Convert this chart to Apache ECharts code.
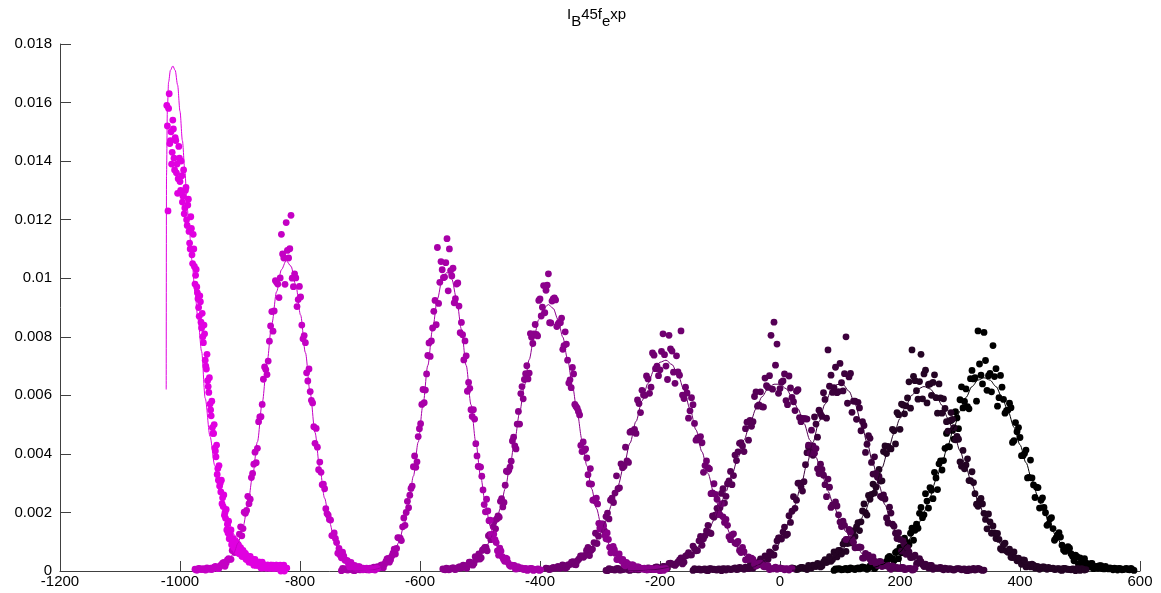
<!DOCTYPE html>
<html><head><meta charset="utf-8">
<script src="https://cdn.jsdelivr.net/npm/echarts@6/dist/echarts.min.js"></script>
<style>html,body{margin:0;padding:0;background:#fff}#c{width:1161px;height:593px}</style>
</head><body><div id="c"></div>
<script>
// ---- tick labels ----
const xTicks = [-1200, -1000, -800, -600, -400, -200, 0, 200, 400, 600];
const yTicks = [0, 0.002, 0.004, 0.006, 0.008, 0.01, 0.012, 0.014, 0.016, 0.018];

// ---- sample grids (first x, spacing) for each measured series; B samples sit between A samples ----
const xStart  = [-1022, -975, -731, -562, -390, -290, -145, 20, 90];
const xStartB = [-1021, -973, -729, -560, -387.5, -287.5, -142.5, 22.5, 92.5];
const xStep   = [2, 4, 4, 4, 5, 5, 5, 5, 5];

// ---- measured values ----
const yS1 = [0.0159,0.0123,0.0163,0.0147,0.0139,0.0154,0.0141,0.0148,0.0136,0.0129,
0.0145,0.0133,0.0140,0.0126,0.0137,0.0124,0.0131,0.0118,0.0127,0.0112,
0.0121,0.0108,0.0115,0.0104,0.0101,0.0097,0.0093,0.0087,0.0092,0.0083,
0.0080,0.0084,0.0072,0.0069,0.0065,0.0061,0.0057,0.0053,0.0049,0.0047,
0.0042,0.0039,0.0033,0.0031,0.0029,0.0027,0.0023,0.0022,0.0019,0.0018,
0.0014,0.0013,0.0011,0.0012,0.0009,0.0010,0.0008,0.0009,0.0007,0.0008,
0.0006,0.0007,0.0006,0.0005,0.0006,0.0005,0.0004,0.0005,0.0004,0.0004,
0.0003,0.0004,0.0003,0.0003,0.0002,0.0003,0.0002,0.0003,0.0002,0.0002,
0.0001,0.0002,0.0002,0.0001,0.0002,0.0001,0.0001,0.0002,0.0001,0.0001,
0.0001,0.0002,0.0001,0.0001,0.0001,0.0000,0.0001,0.0001,0.0000,0.0001,
0.0001];
const yS1B = [0.0152,0.0158,0.0146,0.0150,0.0143,0.0151,0.0137,0.0147,0.0139,0.0134,
0.0141,0.0130,0.0135,0.0128,0.0122,0.0130,0.0120,0.0125,0.0116,0.0110,
0.0117,0.0105,0.0110,0.0098,0.0103,0.0095,0.0090,0.0094,0.0085,0.0088,
0.0078,0.0081,0.0070,0.0074,0.0063,0.0066,0.0055,0.0058,0.0047,0.0050,
0.0041,0.0043,0.0035,0.0036,0.0030,0.0031,0.0025,0.0026,0.0020,0.0021,
0.0016,0.0017,0.0012,0.0014,0.0010,0.0011,0.0009,0.0010,0.0007,0.0009,
0.0006,0.0008,0.0005,0.0007,0.0005,0.0006,0.0004,0.0005,0.0003,0.0005,
0.0003,0.0004,0.0002,0.0004,0.0002,0.0003,0.0002,0.0003,0.0001,0.0003,
0.0002,0.0002,0.0001,0.0002,0.0002,0.0001,0.0002,0.0001,0.0002,0.0001,
0.0001,0.0002,0.0001,0.0001,0.0002,0.0001,0.0001,0.0002,0.0001,0.0001];
const yS2 = [0.00006,0.00003,0.00008,0.00006,0.00004,0.00011,0.00006,0.00005,0.00013,0.00012,
0.00009,0.00022,0.00029,0.00027,0.00042,0.0004,0.00077,0.00079,0.0009,0.00151,
0.00145,0.00197,0.00255,0.00245,0.00333,0.00406,0.00419,0.00526,0.00569,0.00697,
0.00671,0.00785,0.00886,0.00888,0.00986,0.00934,0.0115,0.01069,0.0119,0.01069,
0.01215,0.00971,0.01001,0.00927,0.00936,0.00793,0.0078,0.00649,0.00613,0.00574,
0.00436,0.00423,0.00372,0.00295,0.00281,0.00196,0.00176,0.00121,0.0013,0.00097,
0.00077,0.00045,0.00051,0.00036,0.00023,0.00029,0.00015,0.0001,0.00015,0.00009,
0.00004,0.00009,0.00009,0.00005,0.00006,0.00003,0.00008];
const yS2B = [0.00003,0.00009,0.00005,0.00008,0.00003,0.00008,0.0001,0.00008,0.00016,0.00008,
0.00017,0.00027,0.00016,0.00038,0.0004,0.0007,0.00063,0.0009,0.00126,0.0012,
0.00201,0.00207,0.0023,0.00319,0.00365,0.0037,0.0051,0.00527,0.00655,0.00688,
0.00717,0.00837,0.00819,0.00992,0.0098,0.01001,0.01083,0.00979,0.01095,0.01101,
0.01,0.01015,0.00903,0.00972,0.0084,0.00804,0.00677,0.0069,0.00583,0.00493,
0.00487,0.00346,0.00337,0.00297,0.00213,0.00191,0.00174,0.00121,0.00111,0.00061,
0.00054,0.00064,0.00037,0.00035,0.00014,0.0002,0.00019,0.00009,0.00015,0.00006,
0.00008,0.0001,0.00003,0.00007,0.00005,0.00009];
const yS3 = [0.00001,0.00007,0.00007,0.00004,0.00006,0.00002,0.00008,0.00005,0.00004,0.0001,
0.00005,0.00007,0.0001,0.00005,0.00011,0.00015,0.00011,0.00021,0.00023,0.00041,
0.0003,0.00051,0.00075,0.00077,0.00113,0.00104,0.00181,0.002,0.00216,0.00282,
0.00356,0.00354,0.00459,0.00503,0.0062,0.00618,0.00736,0.00733,0.0083,0.00924,
0.01105,0.00986,0.01029,0.01004,0.01135,0.0110,0.01008,0.00916,0.0098,0.00905,
0.00849,0.00721,0.00735,0.00644,0.00551,0.00551,0.00435,0.00357,0.00355,0.00277,
0.00202,0.00205,0.00174,0.0012,0.00107,0.00069,0.00078,0.00049,0.00033,0.00041,
0.0002,0.0002,0.00019,0.00007,0.00011,0.00011,0.00005,0.00008,0.00005,0.00009,
0.00002,0.00005,0.00007,0.00004];
const yS3B = [0.00009,0.00005,0.00003,0.00007,0.00006,0.00001,0.00007,0.00004,0.00008,0.00006,
0.00004,0.00008,0.00005,0.00013,0.0001,0.00011,0.0002,0.00011,0.00032,0.00043,
0.00038,0.00061,0.00058,0.00114,0.00112,0.00151,0.00156,0.00238,0.00259,0.0029,
0.00393,0.00373,0.00486,0.00569,0.00575,0.00673,0.00779,0.00786,0.00887,0.00841,
0.00914,0.01057,0.01002,0.01053,0.00957,0.01026,0.01034,0.0093,0.00984,0.00814,
0.00807,0.00786,0.00614,0.00624,0.00528,0.00519,0.00393,0.00356,0.00324,0.00227,
0.00245,0.00172,0.00125,0.00126,0.00097,0.00054,0.00068,0.0004,0.00044,0.00028,
0.00016,0.00019,0.00007,0.00015,0.0001,0.00007,0.00009,0.00002,0.00008,0.00008,
0.00004,0.00006,0.00002];
const yS4 = [0.00007,0.00004,0.00008,0.00006,0.00011,0.00005,0.0001,0.00015,0.00011,0.00018,
0.00009,0.0003,0.00028,0.00026,0.0004,0.00058,0.00045,0.00075,0.00081,0.0012,
0.00107,0.00152,0.00144,0.00188,0.00238,0.00219,0.00293,0.00339,0.00355,0.00444,
0.00427,0.00502,0.00502,0.0063,0.00654,0.00701,0.00676,0.00798,0.0081,0.00808,
0.00924,0.00871,0.00975,0.00959,0.01015,0.00847,0.00929,0.00926,0.00843,0.00848,
0.00757,0.00817,0.0072,0.00653,0.00695,0.00569,0.00556,0.00533,0.00408,0.00412,
0.00386,0.00298,0.00297,0.00244,0.00249,0.00163,0.00161,0.00154,0.0011,0.00108,
0.00062,0.00084,0.0006,0.0004,0.0004,0.0004,0.00018,0.00025,0.00018,0.00022,
0.00011,0.00014,0.00008,0.00009,0.0001,0.00004,0.00007,0.00008,0.00005,0.00009,
0.00003,0.00006,0.00002,0.00008];
const yS4B = [0.00005,0.0001,0.00004,0.00008,0.00011,0.00006,0.00012,0.0001,0.0002,0.00013,
0.0002,0.0003,0.0002,0.00049,0.00041,0.00041,0.00071,0.00081,0.00069,0.00124,
0.00119,0.00172,0.00178,0.00184,0.00247,0.00234,0.00341,0.00344,0.00375,0.00457,
0.00417,0.00545,0.00606,0.00588,0.00674,0.00656,0.00811,0.00777,0.00842,0.00803,
0.00929,0.00901,0.00882,0.00976,0.00848,0.00922,0.00933,0.00835,0.00849,0.00864,
0.0077,0.00775,0.00642,0.00626,0.00673,0.00562,0.00545,0.00429,0.00441,0.00417,
0.00329,0.0035,0.00242,0.00239,0.00229,0.00143,0.00159,0.00122,0.0013,0.00081,
0.00076,0.00073,0.00039,0.00058,0.00034,0.00021,0.00029,0.00022,0.00008,0.00019,
0.00009,0.00014,0.0001,0.00006,0.00009,0.00004,0.00009,0.00006,0.00005,0.00008,
0.00001,0.00007,0.00008];
const yS5 = [0.0001,0.00005,0.0001,0.00009,0.00016,0.0001,0.00019,0.00013,0.00022,0.00032,
0.00021,0.00041,0.00052,0.00053,0.00081,0.0007,0.00097,0.00094,0.00149,0.00161,
0.00186,0.00178,0.00249,0.00266,0.00281,0.00366,0.00358,0.00376,0.00474,0.00478,
0.0047,0.00572,0.00617,0.006,0.00656,0.00628,0.00737,0.007,0.00687,0.0081,
0.007,0.00805,0.00751,0.00641,0.0068,0.0082,0.00589,0.00608,0.00547,0.00568,
0.00447,0.00448,0.00438,0.0036,0.00353,0.00264,0.00298,0.00245,0.00192,0.00185,
0.00176,0.00117,0.00123,0.00096,0.00101,0.00063,0.00066,0.00039,0.0004,0.0004,
0.00017,0.00024,0.00022,0.00014,0.00018,0.00008,0.0001,0.00006,0.00011,0.00008,
0.00008,0.00003,0.00008];
const yS5B = [0.00009,0.00006,0.00012,0.00011,0.00009,0.00021,0.00009,0.00022,0.0003,0.00022,
0.00035,0.00052,0.00047,0.0007,0.00053,0.00075,0.00129,0.00119,0.00155,0.00137,
0.00198,0.00242,0.00234,0.00325,0.00284,0.00353,0.00423,0.00371,0.00478,0.00484,
0.00584,0.00541,0.00601,0.00666,0.00607,0.00745,0.00691,0.00667,0.0075,0.00739,
0.00654,0.00759,0.00679,0.00735,0.00669,0.00601,0.00628,0.00522,0.00592,0.00504,
0.00455,0.00459,0.00337,0.00376,0.00349,0.00267,0.00262,0.00194,0.0023,0.00166,
0.00156,0.00107,0.00127,0.00093,0.0007,0.00081,0.00038,0.00048,0.00044,0.00023,
0.00025,0.00027,0.00015,0.00018,0.00005,0.00007,0.00013,0.00008,0.00009,0.00004,
0.00007,0.00008];
const yS6 = [0.00002,0.00008,0.00005,0.00003,0.00009,0.00003,0.00006,0.00008,0.00002,0.00006,
0.00008,0.00004,0.00008,0.00006,0.00011,0.00005,0.00009,0.00014,0.00009,0.00016,
0.00007,0.00026,0.00023,0.00019,0.00031,0.00045,0.0003,0.00054,0.00055,0.00085,
0.00069,0.00103,0.00088,0.0012,0.00156,0.00128,0.00184,0.00214,0.00216,0.00281,
0.00255,0.00308,0.00295,0.00396,0.00407,0.00438,0.00408,0.00508,0.00514,0.0051,
0.00612,0.00567,0.00561,0.00659,0.00627,0.00805,0.0085,0.00775,0.00623,0.00649,
0.00582,0.00666,0.00593,0.00548,0.00619,0.0051,0.0052,0.00519,0.00402,0.00427,
0.00418,0.00333,0.00347,0.00295,0.00314,0.00217,0.00224,0.00222,0.00167,0.0017,
0.00108,0.00142,0.00109,0.00079,0.0008,0.00081,0.00044,0.00054,0.0004,0.00048,
0.00024,0.00031,0.00015,0.00018,0.0002,0.00006,0.00012,0.00012,0.00009,0.00012,
0.00006,0.00008,0.00003,0.00009];
const yS6B = [0.00001,0.00006,0.00004,0.00008,0.00003,0.00005,0.00007,0.00003,0.00009,0.00005,
0.00004,0.00008,0.00008,0.00004,0.0001,0.00008,0.00013,0.00011,0.00009,0.00016,
0.0001,0.00027,0.00023,0.00025,0.00038,0.00024,0.00051,0.00063,0.00055,0.00076,
0.0007,0.00118,0.0011,0.00137,0.00131,0.00188,0.00192,0.00202,0.00265,0.00232,
0.00298,0.0034,0.00326,0.00377,0.00436,0.00427,0.00486,0.00447,0.00494,0.00596,
0.00563,0.00612,0.0056,0.00633,0.00667,0.00621,0.00703,0.00607,0.00645,0.00673,
0.00568,0.00625,0.00578,0.00614,0.00524,0.00521,0.0052,0.0043,0.00481,0.00402,
0.00349,0.00365,0.00327,0.00254,0.00286,0.00226,0.00236,0.00192,0.00152,0.00156,
0.00108,0.00132,0.00098,0.0008,0.00082,0.00044,0.0006,0.00054,0.00032,0.00034,
0.00019,0.00032,0.00019,0.00019,0.0001,0.00017,0.00011,0.00008,0.00012,0.00005,
0.00008,0.00009,0.00004];
const yS7 = [0.00002,0.00005,0.00007,0.00004,0.00007,0.00001,0.00008,0.00006,0.00003,0.00006,
0.00008,0.00003,0.00007,0.00006,0.00011,0.00006,0.00011,0.00006,0.00012,0.00019,
0.00009,0.00023,0.00031,0.00029,0.00052,0.0004,0.00061,0.00055,0.00103,0.00113,
0.00133,0.00122,0.00189,0.00204,0.00214,0.003,0.00288,0.00305,0.00404,0.00407,
0.00395,0.00502,0.00549,0.00528,0.00586,0.00755,0.00669,0.00626,0.00609,0.00709,
0.00615,0.008,0.00663,0.00542,0.0058,0.00576,0.00479,0.00497,0.00433,0.00453,
0.00331,0.00333,0.00323,0.00251,0.00246,0.00164,0.00198,0.00153,0.00111,0.00108,
0.00103,0.00057,0.00065,0.00047,0.00054,0.00027,0.00032,0.00015,0.00017,0.00019,
0.00006,0.00011,0.00011,0.00007,0.0001,0.00005,0.00007,0.00003,0.00008,0.00007,
0.00006,0.00002,0.00007,0.00005,0.00003,0.00009,0.00004,0.00003];
const yS7B = [0.00008,0.00005,0.00003,0.00006,0.00002,0.00008,0.00005,0.00004,0.00007,0.00001,
0.00007,0.00008,0.00005,0.00008,0.00005,0.00012,0.00009,0.00013,0.00008,0.00023,
0.0002,0.0002,0.00041,0.00023,0.00048,0.00065,0.00054,0.0008,0.00113,0.00109,
0.0015,0.00126,0.00166,0.00254,0.00242,0.003,0.00273,0.00363,0.00424,0.00407,
0.00526,0.00457,0.00537,0.00609,0.00522,0.00631,0.0061,0.00696,0.00613,0.00643,
0.00674,0.00573,0.00675,0.0058,0.00518,0.00557,0.0051,0.00405,0.00462,0.00371,
0.0039,0.0032,0.00255,0.0026,0.00181,0.00218,0.0016,0.00129,0.00131,0.00068,
0.0009,0.0008,0.00046,0.00048,0.00024,0.00042,0.00022,0.00023,0.0001,0.00019,
0.00011,0.00009,0.00012,0.00004,0.00008,0.00008,0.00004,0.00006,0.00008,0.00004,
0.00007,0.00001,0.00003,0.00009,0.00005,0.00007,0.00002];
const yS8 = [0.00011,0.00007,0.00006,0.00012,0.0001,0.00005,0.00016,0.0002,0.00015,0.00023,
0.00017,0.00039,0.00033,0.00033,0.00065,0.00048,0.0007,0.00092,0.00067,0.00106,
0.00133,0.00118,0.00165,0.00168,0.00229,0.00191,0.00245,0.00297,0.00286,0.00347,
0.00308,0.00427,0.00426,0.00417,0.00479,0.00541,0.00484,0.00567,0.00564,0.00646,
0.00755,0.0065,0.00587,0.0074,0.00673,0.00574,0.00639,0.00644,0.00592,0.00639,
0.00539,0.00555,0.00478,0.00541,0.0049,0.0046,0.00373,0.00412,0.00362,0.00309,
0.00339,0.00264,0.00221,0.00248,0.00197,0.00144,0.00168,0.00154,0.00111,0.00108,
0.00072,0.00095,0.00064,0.00047,0.00065,0.00035,0.00037,0.00038,0.00014,0.00022,
0.00023,0.0001,0.00015,0.0001,0.00014,0.00006,0.00008,0.0001,0.00006,0.00008,
0.00002,0.00009,0.00006,0.00004,0.00006,0.00008,0.00002,0.00006,0.00005];
const yS8B = [0.00009,0.00005,0.0001,0.00012,0.00008,0.00019,0.0001,0.00017,0.00026,0.00014,
0.0003,0.00029,0.00049,0.00039,0.00052,0.0007,0.00058,0.00102,0.00094,0.00096,
0.00138,0.00151,0.00138,0.00205,0.00199,0.00258,0.00262,0.00266,0.00326,0.00307,
0.00408,0.00401,0.0042,0.00484,0.00434,0.00534,0.0057,0.00537,0.00591,0.00556,
0.00665,0.00616,0.00647,0.00588,0.00686,0.00637,0.006,0.0067,0.00539,0.00591,
0.00588,0.0051,0.00513,0.00518,0.00448,0.0045,0.00358,0.00349,0.00383,0.00309,
0.00302,0.00228,0.0024,0.00229,0.00176,0.00195,0.00129,0.0013,0.00128,0.00076,
0.00089,0.00068,0.00075,0.00046,0.00045,0.00044,0.00023,0.00037,0.00022,0.00014,
0.0002,0.00016,0.00006,0.00014,0.00009,0.00012,0.00008,0.00005,0.00008,0.00003,
0.00009,0.00006,0.00005,0.00007,0.00001,0.00007,0.00008,0.00003];
const yS9 = [0.00002,0.00006,0.00007,0.00005,0.00009,0.00005,0.00008,0.00005,0.00011,0.00011,
0.00012,0.00006,0.00017,0.00016,0.00014,0.00031,0.00024,0.00022,0.00046,0.00043,
0.00035,0.00067,0.00081,0.00073,0.00098,0.0009,0.00146,0.00139,0.00146,0.00217,
0.00192,0.00239,0.00285,0.00247,0.00318,0.00366,0.00345,0.00419,0.00425,0.00514,
0.0045,0.00523,0.00585,0.00557,0.00622,0.00554,0.00685,0.0066,0.0082,0.00669,
0.00815,0.00617,0.00675,0.0077,0.00691,0.00592,0.00628,0.00539,0.0055,0.00558,
0.00445,0.00476,0.00456,0.00394,0.00413,0.0032,0.00318,0.00251,0.00285,0.00242,
0.00217,0.00156,0.00178,0.00145,0.00113,0.00131,0.00088,0.00067,0.00083,0.00059,
0.00035,0.00049,0.00045,0.00026,0.00028,0.00014,0.00026,0.00015,0.00009,0.00018,
0.00007,0.0001,0.00011,0.00004,0.00008,0.00009,0.00004,0.00007,0.00005,0.00009,
0.00002];
const yS9B = [0.00007,0.00008,0.00004,0.00007,0.00004,0.00011,0.00007,0.00009,0.00007,0.00014,
0.00011,0.0001,0.00022,0.00008,0.00023,0.00031,0.0002,0.00033,0.0005,0.00042,
0.00063,0.00042,0.00062,0.00112,0.00097,0.00129,0.00105,0.0016,0.00197,0.00182,
0.00264,0.00215,0.00276,0.00337,0.00278,0.00376,0.00377,0.0047,0.00424,0.0048,
0.00544,0.00486,0.00629,0.00579,0.00561,0.00657,0.00656,0.0058,0.00707,0.00639,
0.00719,0.00667,0.00612,0.00664,0.00563,0.00668,0.00586,0.00548,0.00573,0.00439,
0.00507,0.0049,0.00394,0.00401,0.00318,0.00379,0.00294,0.00286,0.00215,0.0025,
0.00199,0.0016,0.00182,0.00105,0.00123,0.00116,0.00072,0.00075,0.00078,0.0005,
0.00054,0.00023,0.00025,0.00042,0.00022,0.00025,0.00008,0.00016,0.00018,0.00008,
0.00016,0.00007,0.00009,0.0001,0.00003,0.00008,0.00005,0.00009,0.00004,0.00005];

// ---- fitted curves ----
const fitS1X = [-1023,-1022.5,-1021,-1019,-1016,-1012,-1008,-1004,-1000,-996,-992,-988,-984,-980,-975,-970,-964,-958,-950,-942,-934,-922,-908,-895,-880,-860,-840,-822];
const fitS1Y = [0.0062,0.0135,0.0158,0.0167,0.0171,0.01725,0.0171,0.0166,0.0157,0.0147,0.0137,0.0124,0.0115,0.0106,0.0095,0.0086,0.0075,0.0059,0.0046,0.0036,0.0027,0.0018,0.0012,0.0008,0.0005,0.0003,0.0002,0.0001];
const fitStart = [null, -975, -731, -562, -390, -290, -145, 20, 90];
const fitStep  = [null, 8, 8, 8, 10, 10, 10, 10, 10];
const fitS2 = [0.000002,0.000005,0.000011,0.000024,0.00005,0.0001,0.000189,0.00034,0.00059,0.00096,0.00151,0.00227,0.00324,0.00441,0.00574,0.00712,0.00844,0.00954,0.01029,0.0106,0.01041,0.00976,0.00874,0.00746,0.00608,0.00473,0.00351,0.00249,0.00168,0.00109,0.00067,0.00039,0.00022,0.00012,0.00006,0.00003,0.000014,0.000006,0.000003];
const fitS3 = [0,0,0,0,0.000005,0.000012,0.000026,0.000053,0.0001,0.0002,0.00035,0.0006,0.00099,0.00154,0.00228,0.00324,0.0044,0.00568,0.00702,0.00826,0.00929,0.00997,0.0102,0.00997,0.00929,0.00826,0.00702,0.00568,0.0044,0.00324,0.00228,0.00154,0.00099,0.0006,0.00035,0.0002,0.0001,0.000053,0.000026,0.000012,0.000005,0];
const fitS4 = [0.000008,0.000015,0.000027,0.000049,0.000084,0.00014,0.00022,0.00035,0.00053,0.00079,0.00113,0.00157,0.00214,0.00281,0.0036,0.00448,0.00541,0.00633,0.00722,0.00799,0.00859,0.00897,0.0091,0.00897,0.00859,0.00799,0.00722,0.00633,0.00541,0.00448,0.0036,0.00281,0.00214,0.00157,0.00113,0.00079,0.00053,0.00035,0.00022,0.00014,0.000084,0.000049,0.000027,0.000015,0.000008,0.000005,0.000002];
const fitS5 = [0.000021,0.000037,0.000065,0.000109,0.000176,0.00028,0.00042,0.00063,0.00091,0.00127,0.00173,0.00228,0.00292,0.00362,0.00437,0.00511,0.00581,0.00641,0.00686,0.00713,0.0072,0.00705,0.0067,0.00618,0.00554,0.00482,0.00407,0.00333,0.00265,0.00204,0.00153,0.00112,0.00079,0.00054,0.00036,0.00023,0.000145,0.000089,0.000053,0.00003,0.000017,0.000009];
const fitS6 = [0,0,0.000002,0.000003,0.000005,0.00001,0.000016,0.000027,0.000044,0.000071,0.00011,0.00017,0.000255,0.00037,0.00053,0.00074,0.001,0.00134,0.00173,0.0022,0.00272,0.00329,0.00388,0.00447,0.00504,0.00554,0.00595,0.00623,0.00638,0.00638,0.00623,0.00595,0.00554,0.00504,0.00447,0.00388,0.00329,0.00272,0.0022,0.00173,0.00134,0.001,0.00074,0.00053,0.00037,0.000255,0.00017,0.00011,0.000071,0.000044,0.000027,0.000016];
const fitS7 = [0,0,0,0,0.000003,0.000005,0.000012,0.000022,0.000042,0.000076,0.00013,0.00022,0.00036,0.00055,0.00083,0.00121,0.00168,0.00226,0.00293,0.00366,0.0044,0.0051,0.0057,0.00614,0.00637,0.00637,0.00614,0.0057,0.0051,0.0044,0.00366,0.00293,0.00226,0.00168,0.00121,0.00083,0.00055,0.00036,0.00022,0.00013,0.000076,0.000042,0.000022,0.000012,0.000005,0.000003,0,0,0];
const fitS8 = [0.000021,0.000034,0.000055,0.000088,0.00014,0.00021,0.0003,0.00044,0.00062,0.00085,0.00115,0.00151,0.00193,0.00241,0.00295,0.00353,0.00411,0.00469,0.00521,0.00566,0.00601,0.00622,0.0063,0.00622,0.00601,0.00566,0.00521,0.00469,0.00411,0.00353,0.00295,0.00241,0.00193,0.00151,0.00115,0.00085,0.00062,0.00044,0.0003,0.00021,0.00014,0.000088,0.000055,0.000034,0.000021,0.000012,0.000007,0.000004,0.000002,0.000001];
const fitS9 = [0.000004,0.000007,0.000013,0.000022,0.000036,0.000058,0.000092,0.000143,0.00022,0.00032,0.00046,0.00065,0.00089,0.0012,0.00158,0.00202,0.00253,0.0031,0.0037,0.00431,0.00491,0.00546,0.00593,0.0063,0.00652,0.0066,0.00652,0.0063,0.00593,0.00546,0.00491,0.00431,0.0037,0.0031,0.00253,0.00202,0.00158,0.0012,0.00089,0.00065,0.00046,0.00032,0.00022,0.000143,0.000092,0.000058,0.000036,0.000022,0.000013,0.000007,0.000004];

// ---- styles ----
const colors = ['#e000e0','#c400c4','#a800a8','#8c008c','#700070','#560056','#3c003c','#240424','#000000'];
const FONT = '"Liberation Sans", Arial, Helvetica, sans-serif';

const ysA = [yS1,yS2,yS3,yS4,yS5,yS6,yS7,yS8,yS9];
const ysB = [yS1B,yS2B,yS3B,yS4B,yS5B,yS6B,yS7B,yS8B,yS9B];
const fits = [null,fitS2,fitS3,fitS4,fitS5,fitS6,fitS7,fitS8,fitS9];

const series = [];
for (let k = 8; k >= 0; k--) {
  const pts = ysA[k].map((y, i) => [xStart[k] + i * xStep[k], y])
    .concat(ysB[k].map((y, i) => [xStartB[k] + i * xStep[k], y]));
  series.push({
    type: 'scatter', symbol: 'circle', symbolSize: 6.8,
    itemStyle: { color: colors[k], opacity: 1 },
    data: pts, silent: true
  });
  const fitData = k === 0
    ? fitS1X.map((x, i) => [x, fitS1Y[i]])
    : fits[k].map((y, i) => [fitStart[k] + i * fitStep[k], y]);
  series.push({
    type: 'line', showSymbol: false, smooth: 0.3, smoothMonotone: 'x',
    lineStyle: { color: colors[k], width: 1 },
    data: fitData, silent: true
  });
}

const chart = echarts.init(document.getElementById('c'), null, { renderer: 'canvas' });
chart.setOption({
  animation: false,
  backgroundColor: '#ffffff',
  title: {
    text: '{a|I}{b|B}{a|45f}{b|e}{a|xp}',
    left: 567, top: 7, padding: 0,
    textStyle: {
      fontWeight: 'normal',
      rich: {
        a: { fontSize: 15, fontFamily: FONT, fontWeight: 'normal', color: '#000', lineHeight: 15, verticalAlign: 'top' },
        b: { fontSize: 15, fontFamily: FONT, fontWeight: 'normal', color: '#000', lineHeight: 29 }
      }
    }
  },
  grid: { left: 60, right: 21, top: 44, bottom: 22, containLabel: false },
  xAxis: {
    type: 'value', min: xTicks[0], max: xTicks[xTicks.length - 1], interval: 200,
    axisLine: { show: true, onZero: false, lineStyle: { color: '#404040', width: 1 } },
    axisTick: { show: true, inside: true, length: 10, lineStyle: { color: '#404040' } },
    splitLine: { show: false },
    axisLabel: { fontSize: 15, fontFamily: FONT, color: '#000', margin: 3,
      showMinLabel: true, showMaxLabel: true, formatter: v => String(v) }
  },
  yAxis: {
    type: 'value', min: yTicks[0], max: yTicks[yTicks.length - 1], interval: 0.002,
    axisLine: { show: true, onZero: false, lineStyle: { color: '#404040', width: 1 } },
    axisTick: { show: true, inside: true, length: 11, lineStyle: { color: '#404040' } },
    splitLine: { show: false },
    axisLabel: { fontSize: 15, fontFamily: FONT, color: '#000', margin: 8,
      formatter: v => String(parseFloat(v.toFixed(4))) }
  },
  series: series
});
</script>
</body></html>
